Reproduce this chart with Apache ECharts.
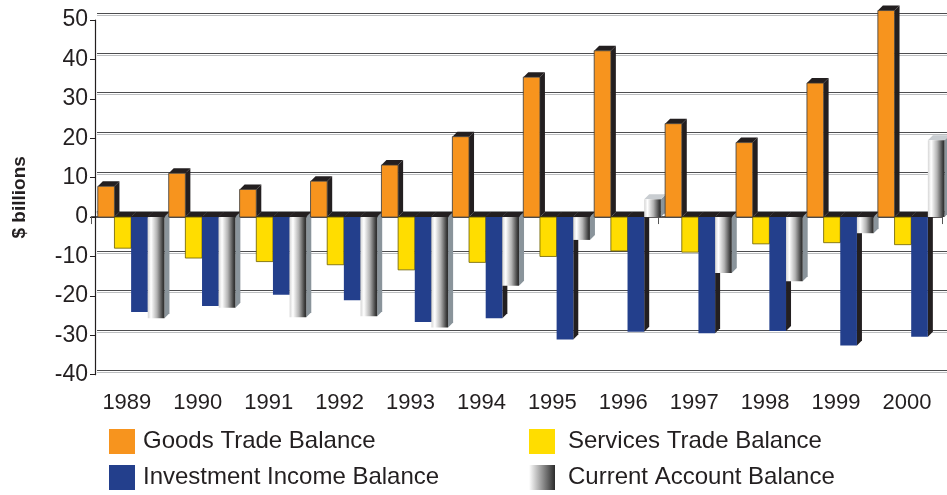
<!DOCTYPE html>
<html>
<head>
<meta charset="utf-8">
<script src="https://cdn.jsdelivr.net/npm/echarts@6/dist/echarts.min.js"></script>
<style>
  html, body { margin: 0; padding: 0; background: #fff; }
  #chart { width: 947px; height: 495px; }
</style>
</head>
<body>
<div id="chart"></div>
<script>
const years = ['1989', '1990', '1991', '1992', '1993', '1994', '1995', '1996', '1997', '1998', '1999', '2000'];
const goods = [7.8, 11.1, 7.0, 9.1, 13.2, 20.4, 35.5, 42.2, 23.7, 18.9, 34.0, 52.4];
const services = [-7.9, -10.4, -11.3, -12.1, -13.4, -11.5, -10.0, -8.6, -8.9, -6.8, -6.5, -7.0];
const investment = [-24.1, -22.6, -19.7, -21.1, -26.6, -25.7, -31.1, -29.1, -29.5, -28.9, -32.6, -30.4];
const current = [-25.7, -23.0, -25.4, -25.2, -28.0, -17.4, -5.8, 4.5, -14.2, -16.3, -4.1, 19.5];

const FONT = 'Liberation Sans, Arial, Helvetica, sans-serif';
const INK = '#231f20';
const DX = 5;
const DY = -5;

// front face of the current account bars
const caGradient = {
  type: 'linear', x: 0, y: 0, x2: 1, y2: 0,
  colorStops: [
    { offset: 0, color: '#d6d6d6' },
    { offset: 0.2, color: '#ffffff' },
    { offset: 0.55, color: '#b3b3b3' },
    { offset: 0.9, color: '#3d3d3d' },
    { offset: 1, color: '#2b2b2b' },
  ],
};

// legend swatch: plain white -> dark
const caLegendGradient = {
  type: 'linear', x: 0, y: 0, x2: 1, y2: 0,
  colorStops: [
    { offset: 0, color: '#ffffff' },
    { offset: 1, color: '#2b2b2b' },
  ],
};

// draw one pseudo-3d box: front face, right side and top
function boxRenderer(k, front, side, top, stroke) {
  return function (params, api) {
    let cat = api.value(0);
    let val = api.value(1);
    let band = api.size([1, 0])[0];
    let c = api.coord([cat, val]);
    let z = api.coord([cat, 0]);
    let bw = band * 0.235;
    let x0 = c[0] - band / 2 + band * 0.09 + k * bw;
    let x1 = x0 + bw;
    let yt = Math.min(c[1], z[1]);
    let yb = Math.max(c[1], z[1]);
    let topColor = val >= 0 ? top : INK;
    return {
      type: 'group',
      children: [
        {
          type: 'polygon',
          shape: { points: [[x1, yt], [x1 + DX, yt + DY], [x1 + DX, yb + DY], [x1, yb]] },
          style: { fill: side },
        },
        {
          type: 'polygon',
          shape: { points: [[x0, yt], [x0 + DX, yt + DY], [x1 + DX, yt + DY], [x1, yt]] },
          style: { fill: topColor },
        },
        {
          type: 'rect',
          shape: { x: x0, y: yt, width: bw, height: yb - yt },
          style: { fill: front, stroke: stroke || null, lineWidth: stroke ? 0.8 : 0 },
        },
      ],
    };
  };
}

function toData(arr) {
  return arr.map((v, i) => [i, v]);
}

let myChart = echarts.init(document.getElementById('chart'));
let option = {
  animation: false,
  textStyle: { fontFamily: FONT },
  grid: [
    { left: 97, right: 0, top: 13.3, bottom: 125 },
    { left: 91.4, right: 4.6, top: 20, bottom: 120.3 },
  ],
  xAxis: [
    {
      gridIndex: 0,
      type: 'category',
      data: years,
      axisLine: { lineStyle: { color: '#a7a9ac', width: 1.5 } },
      axisTick: { show: false },
      axisLabel: { show: false },
    },
    {
      gridIndex: 1,
      type: 'category',
      data: years,
      axisLine: { lineStyle: { color: INK, width: 1.5 } },
      axisTick: { show: true, length: 7, lineStyle: { color: '#555', width: 1 } },
      axisLabel: { color: INK, fontSize: 22, margin: 17, fontFamily: FONT },
    },
  ],
  yAxis: [
    {
      gridIndex: 0,
      type: 'value',
      min: -40,
      max: 50,
      interval: 10,
      axisLine: { show: false },
      axisTick: { show: false },
      axisLabel: { show: false },
      splitLine: {
        lineStyle: { color: '#4d4d4f', width: 1, shadowColor: '#bcbec0', shadowOffsetY: 2, shadowBlur: 0 },
      },
    },
    {
      gridIndex: 1,
      type: 'value',
      min: -40,
      max: 50,
      interval: 10,
      offset: -3.6,
      name: '$ billions',
      nameLocation: 'middle',
      nameRotate: 90,
      nameGap: 66,
      nameTextStyle: { color: INK, fontSize: 19, fontWeight: 'bold', fontFamily: FONT },
      axisLine: { show: true, lineStyle: { color: INK, width: 1.2 } },
      axisTick: { show: true, length: 5, lineStyle: { color: INK } },
      axisLabel: { color: INK, fontSize: 23, margin: 7, fontFamily: FONT },
      splitLine: { show: false },
    },
  ],
  legend: [
    {
      left: 109,
      top: 429,
      orient: 'vertical',
      padding: 0,
      itemWidth: 26,
      itemHeight: 25,
      itemGap: 11,
      icon: 'rect',
      selectedMode: false,
      data: ['Goods Trade Balance', 'Investment Income Balance'],
      textStyle: { color: INK, fontSize: 24, fontFamily: FONT, padding: [8, 0, 0, 3] },
    },
    {
      left: 529,
      top: 429,
      orient: 'vertical',
      padding: 0,
      itemWidth: 26,
      itemHeight: 25,
      itemGap: 11,
      icon: 'rect',
      selectedMode: false,
      data: ['Services Trade Balance', 'Current Account Balance'],
      textStyle: { color: INK, fontSize: 24, fontFamily: FONT, padding: [8, 0, 0, 8] },
    },
  ],
  series: [
    {
      name: 'Services Trade Balance',
      type: 'custom',
      xAxisIndex: 1,
      yAxisIndex: 1,
      z: 2,
      itemStyle: { color: '#ffdd00' },
      renderItem: boxRenderer(1, '#ffdd00', INK, INK, '#6b5e00'),
      encode: { x: 0, y: 1 },
      data: toData(services),
    },
    {
      name: 'Investment Income Balance',
      type: 'custom',
      xAxisIndex: 1,
      yAxisIndex: 1,
      z: 3,
      itemStyle: { color: '#233f8c' },
      renderItem: boxRenderer(2, '#233f8c', INK, INK),
      encode: { x: 0, y: 1 },
      data: toData(investment),
    },
    {
      name: 'Current Account Balance',
      type: 'custom',
      xAxisIndex: 1,
      yAxisIndex: 1,
      z: 4,
      itemStyle: { color: caLegendGradient },
      renderItem: boxRenderer(3, caGradient, '#8a949b', '#c9cdd1'),
      encode: { x: 0, y: 1 },
      data: toData(current),
    },
    {
      name: 'Goods Trade Balance',
      type: 'custom',
      xAxisIndex: 1,
      yAxisIndex: 1,
      z: 5,
      itemStyle: { color: '#f7941e' },
      renderItem: boxRenderer(0, '#f7941e', INK, INK, '#3a3a3a'),
      encode: { x: 0, y: 1 },
      data: toData(goods),
    },
  ],
};

myChart.setOption(option);
</script>
</body>
</html>
